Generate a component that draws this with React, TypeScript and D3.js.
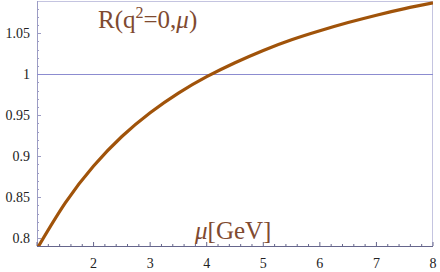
import * as d3 from "d3";

// R(q^2=0, mu)
const mu = [1.0, 1.5, 2.0, 2.5, 3.0, 3.5, 4.0, 4.5, 5.0, 5.5, 6.0, 6.5, 7.0, 7.5, 8.0];
const ratio = [0.787, 0.843, 0.888, 0.924, 0.953, 0.977, 0.997, 1.014, 1.029, 1.042, 1.053, 1.063, 1.072, 1.08, 1.087];

const xTicks = [2, 3, 4, 5, 6, 7, 8];
const yTicks = [0.8, 0.85, 0.9, 0.95, 1, 1.05];

export default function App() {
  const width = 440;
  const height = 272;
  const left = 37;
  const right = 433;
  const top = 1;
  const bottom = 246;

  const x = d3.scaleLinear().domain([1, 8]).range([left, right]);
  const y = d3.scaleLinear().domain([0.7905, 1.0893]).range([bottom, top]);

  const pts = mu.map((m, i) => [m, ratio[i]] as [number, number]);
  const line = d3
    .line<[number, number]>()
    .x((d) => x(d[0]))
    .y((d) => y(d[1]))
    .curve(d3.curveNatural);

  const xMinor = d3.range(1, 8.001, 0.2);
  const yMinor = d3.range(0.8, 1.0893, 0.01);
  const axisColor = "#9c9cc4";
  const font = "'Liberation Serif', 'Times New Roman', serif";

  return (
    <svg
      width={width}
      height={height}
      style={{ position: "absolute", left: 0, top: 0, background: "#fff" }}
      fontFamily={font}
    >
      <defs>
        <clipPath id="plot">
          <rect x={left} y={top} width={right - left} height={bottom - top} />
        </clipPath>
      </defs>

      {/* frame */}
      <rect
        x={left + 0.5}
        y={top + 0.5}
        width={right - left - 1}
        height={bottom - top}
        fill="none"
        stroke="#c4c4e0"
        strokeWidth={1}
      />
      <line x1={left} x2={right} y1={bottom + 0.5} y2={bottom + 0.5} stroke="#66668c" />
      <line x1={left + 0.5} x2={left + 0.5} y1={top} y2={bottom} stroke={axisColor} />

      {xMinor.map((t) => {
        const major = Math.abs(t - Math.round(t)) < 1e-6;
        return (
          <line
            key={`xm${t}`}
            x1={x(t)}
            x2={x(t)}
            y1={bottom}
            y2={bottom - (major ? 4 : 2)}
            stroke="#66668c"
          />
        );
      })}
      {yMinor.map((t) => {
        const major = Math.abs(t * 20 - Math.round(t * 20)) < 1e-6;
        return (
          <line
            key={`ym${t}`}
            x1={left}
            x2={left + (major ? 4 : 2)}
            y1={Math.round(y(t)) + 0.5}
            y2={Math.round(y(t)) + 0.5}
            stroke={axisColor}
          />
        );
      })}

      {xTicks.map((t) => (
        <text key={`xt${t}`} x={x(t)} y={268} textAnchor="middle" fontSize={14} fill="#222">
          {t}
        </text>
      ))}
      {yTicks.map((t) => (
        <text
          key={`yt${t}`}
          x={30}
          y={y(t) + 5}
          textAnchor="end"
          fontSize={14}
          fill="#222"
        >
          {String(t)}
        </text>
      ))}

      {/* reference line at R = 1 */}
      <line
        x1={left}
        x2={right}
        y1={Math.round(y(1)) + 0.5}
        y2={Math.round(y(1)) + 0.5}
        stroke="#8c8cd0"
        strokeWidth={1}
      />

      <path
        d={line(pts) ?? ""}
        fill="none"
        stroke="#a0530a"
        strokeWidth={3.2}
        clipPath="url(#plot)"
      />

      <text x={98} y={28} fontSize={25} fill="#7f4a30">
        R(q<tspan dy={-10} fontSize={16}>2</tspan>
        <tspan dy={10}>=0,</tspan>
        <tspan fontStyle="italic">μ</tspan>)
      </text>
      <text x={195} y={239} fontSize={25} fill="#7f4a30">
        <tspan fontStyle="italic">μ</tspan>[GeV]
      </text>
    </svg>
  );
}
